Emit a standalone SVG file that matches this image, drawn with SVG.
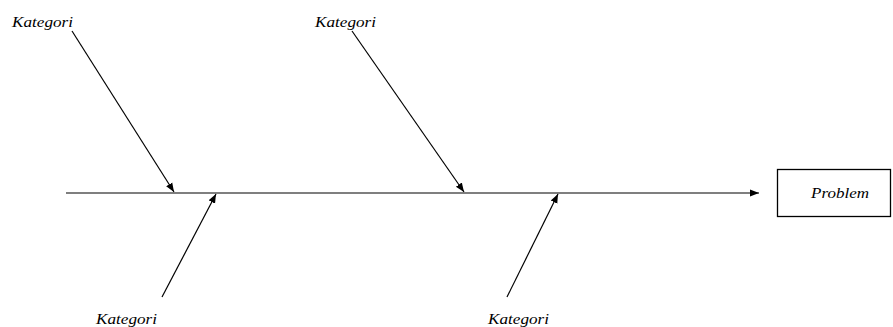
<svg xmlns="http://www.w3.org/2000/svg" width="893" height="327" viewBox="0 0 893 327">
<style>
.t{font-family:"Liberation Serif","Times New Roman",serif;font-style:italic;font-size:15px;fill:#000}
.l{stroke:#000;stroke-width:1.2;fill:none}
</style>
<defs>
<marker id="a" viewBox="0 0 10 10" refX="10" refY="5" markerWidth="9" markerHeight="9" markerUnits="userSpaceOnUse" orient="auto">
<path d="M0,1 L10,5 L0,9 z" fill="#000"/>
</marker>
</defs>
<g id="connectors">
<line class="l" x1="66" y1="193" x2="759" y2="193" marker-end="url(#a)"/>
<line class="l" x1="72" y1="31" x2="174" y2="192" marker-end="url(#a)"/>
<line class="l" x1="352" y1="31" x2="464" y2="192" marker-end="url(#a)"/>
<line class="l" x1="162" y1="297" x2="216" y2="194" marker-end="url(#a)"/>
<line class="l" x1="507" y1="297" x2="558" y2="194" marker-end="url(#a)"/>
</g>
<g id="problem">
<rect x="777.5" y="169.5" width="113" height="47" fill="#fff" stroke="#000" stroke-width="1.3"/>
<text class="t" x="811" y="198" textLength="58" lengthAdjust="spacingAndGlyphs">Problem</text>
</g>
<g id="kategori1"><text class="t" x="12" y="27" textLength="61" lengthAdjust="spacingAndGlyphs">Kategori</text></g>
<g id="kategori2"><text class="t" x="315" y="27" textLength="61" lengthAdjust="spacingAndGlyphs">Kategori</text></g>
<g id="kategori3"><text class="t" x="96" y="324" textLength="61" lengthAdjust="spacingAndGlyphs">Kategori</text></g>
<g id="kategori4"><text class="t" x="488" y="324" textLength="61" lengthAdjust="spacingAndGlyphs">Kategori</text></g>
</svg>
